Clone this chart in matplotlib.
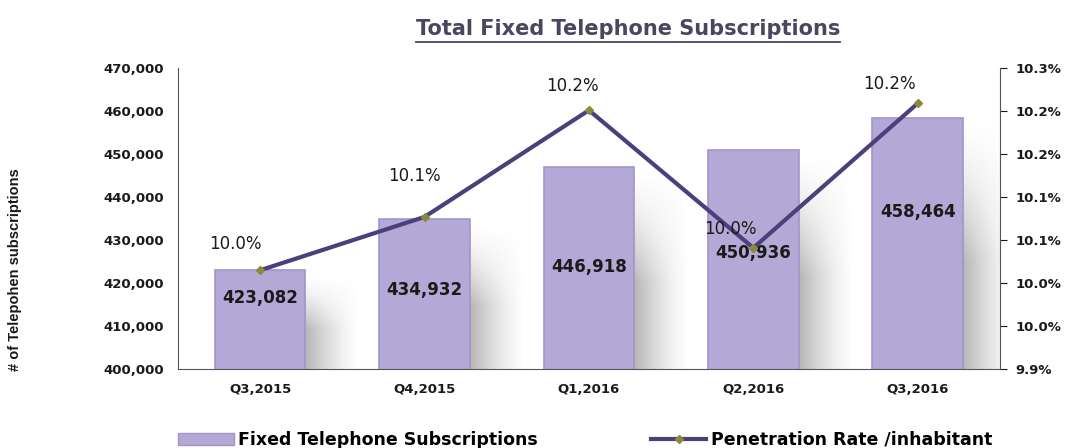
import numpy as np
import matplotlib.pyplot as plt
from matplotlib.lines import Line2D
from matplotlib.ticker import FuncFormatter

quarters = ['Q3,2015', 'Q4,2015', 'Q1,2016', 'Q2,2016', 'Q3,2016']
subscriptions = [423082, 434932, 446918, 450936, 458464]
penetration = [0.10015, 0.10077, 0.10201, 0.10041, 0.10209]
pen_labels = ['10.0%', '10.1%', '10.2%', '10.0%', '10.2%']
right_ticks = [0.099, 0.0995, 0.100, 0.1005, 0.101, 0.1015, 0.102, 0.1025]
right_tick_labels = ['9.9%', '10.0%', '10.0%', '10.1%', '10.1%', '10.2%', '10.2%', '10.3%']

plt.rcParams['font.family'] = ['DejaVu Sans']
text_color = '#1a1a1a'
bar_color = '#b4a8d6'
line_color = '#4b407c'

fig = plt.figure(figsize=(10.74, 4.48), dpi=100)
ax = fig.add_axes([0.1657, 0.176, 0.7653, 0.672])
x = range(len(quarters))

# soft gradient shadows to the right of bars
hfade = np.linspace(0.4, 0.0, 40)
for i, v in enumerate(subscriptions):
    vfade = np.clip(np.linspace(1.8, 0.0, 60), 0, 1)
    shade = np.outer(vfade, hfade)
    ax.imshow(shade, extent=[i + 0.275, i + 0.6, 400000, v - 2000], origin='lower',
              aspect='auto', cmap='Greys', vmin=0, vmax=1, zorder=1, interpolation='bilinear')

bars = ax.bar(x, subscriptions, width=0.55, color=bar_color, edgecolor='#a195c8', linewidth=1.2, zorder=2)

ax.set_ylim(400000, 470000)
ax.set_xlim(-0.5, 4.5)
ax.set_yticks(range(400000, 470001, 10000))
ax.yaxis.set_major_formatter(FuncFormatter(lambda v, p: f'{int(v):,}'))
ax.set_xticks(list(x))
ax.set_xticklabels(quarters)
ax.tick_params(axis='both', length=0, labelsize=9.5, colors=text_color, pad=10)
for lab in ax.get_xticklabels() + ax.get_yticklabels():
    lab.set_fontweight('bold')
ax.spines['top'].set_visible(False)
ax.spines['right'].set_visible(False)
ax.spines['left'].set_color('#555555')
ax.spines['bottom'].set_color('#555555')
ax.set_ylabel('# of Telepohen subscriptions', fontsize=10.5, fontweight='bold',
              family=['Liberation Sans'], color=text_color)
ax.yaxis.set_label_coords(-0.19, 0.33)

# value labels inside bars
label_y = [416500, 418500, 423800, 427000, 436500]
for i, v in enumerate(subscriptions):
    ax.text(i, label_y[i], f'{v:,}', ha='center', va='center', fontsize=12,
            fontweight='bold', color=text_color, zorder=5)

ax2 = ax.twinx()
ax2.plot(list(x), penetration, color=line_color, linewidth=3, marker='D', markersize=4,
         markerfacecolor='#8a8a3a', markeredgecolor='#8a8a3a', zorder=4)
ax2.set_ylim(0.099, 0.1025)
ax2.set_yticks(right_ticks)
ax2.set_yticklabels(right_tick_labels)
ax2.tick_params(axis='y', length=5, labelsize=9.5, colors=text_color, pad=6, direction='out')
for lab in ax2.get_yticklabels():
    lab.set_fontweight('bold')
for s in ['top', 'left', 'bottom']:
    ax2.spines[s].set_visible(False)
ax2.spines['right'].set_color('#555555')

offsets = [(-0.15, 0.0003), (-0.06, 0.00047), (-0.1, 0.00028), (-0.14, 0.00022), (-0.17, 0.00022)]
for i, (p, lbl) in enumerate(zip(penetration, pen_labels)):
    dx, dy = offsets[i]
    ax2.text(i + dx, p + dy, lbl, ha='center', va='center', fontsize=12,
             color=text_color, zorder=5)

# underlined title
title = fig.text(0.585, 0.935, 'Total Fixed Telephone Subscriptions', ha='center', va='center',
                 fontsize=15, fontweight='bold', color='#4a4660')
fig.canvas.draw()
bb = title.get_window_extent().transformed(fig.transFigure.inverted())
fig.add_artist(Line2D([bb.x0, bb.x1], [bb.y0 - 0.006, bb.y0 - 0.006], color='#4a4660', linewidth=1.3))

# legend
handles = [
    plt.Rectangle((0, 0), 1, 1, facecolor=bar_color, edgecolor='#a195c8'),
    Line2D([0], [0], color=line_color, linewidth=3, marker='D', markersize=4,
           markerfacecolor='#8a8a3a', markeredgecolor='#8a8a3a'),
]
fig.legend(handles, ['Fixed Telephone Subscriptions', 'Penetration Rate /inhabitant'],
           loc='center', bbox_to_anchor=(0.545, 0.018), ncol=2, frameon=False,
           prop={'size': 12.5, 'weight': 'bold'}, columnspacing=6.5, handlelength=3.2,
           handletextpad=0.25)

fig.savefig('out.png', dpi=100)
